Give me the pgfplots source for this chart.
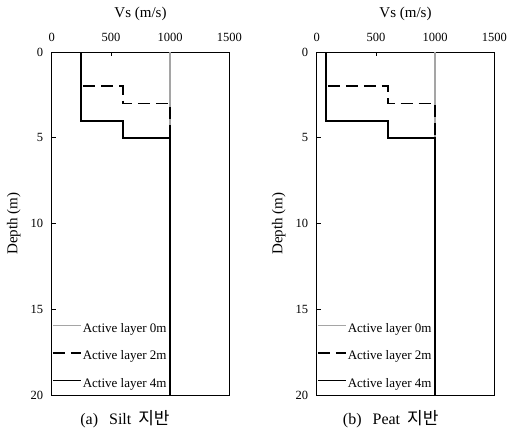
\documentclass[border=0pt]{standalone}
\usepackage{pgfplots}
\pgfplotsset{compat=1.18}
\usepackage{fontspec}
\setmainfont{Liberation Serif}
\newfontfamily\kr{Noto Sans CJK KR}
\definecolor{lgray}{RGB}{165,165,165}
\pgfplotsset{
  vsprof/.style={
    scale only axis, width=177.6bp, height=343bp,
    xmin=0, xmax=1500, ymin=0, ymax=20, y dir=reverse,
    xtick={0,500,1000,1500}, ytick={0,5,10,15,20},
    xtick pos=right, xticklabel pos=right, ytick pos=left,
    tick align=inside, major tick length=4bp,
    axis line style={line width=0.9bp},
    tick style={line width=0.8bp, black},
    ticklabel style={font=\fontsize{12.5bp}{14bp}\selectfont},
    /pgf/number format/assume math mode=true,
    /pgf/number format/1000 sep={},
    xlabel={Vs (m/s)}, ylabel={Depth (m)},
    every axis x label/.style={at={(axis description cs:0.5,1)}, yshift=38bp, anchor=center,
      font=\fontsize{15bp}{17bp}\selectfont},
    every axis y label/.style={at={(axis description cs:0,0.5)}, xshift=-38bp, rotate=90, anchor=center,
      font=\fontsize{15bp}{17bp}\selectfont},
    xticklabel style={yshift=6.5bp},
    yticklabel style={xshift=-5bp},
    legend image code/.code={\draw[##1] (0bp,3.5bp) -- (28bp,3.5bp);},
    legend cell align=left,
    legend style={draw=none, fill=none, at={(axis cs:0,20)}, anchor=south west,
      yshift=4.5bp, inner sep=0pt, row sep=15bp,
      nodes={inner sep=0pt, text height=9.5bp, text depth=3bp,
        font=\fontsize{13bp}{15bp}\selectfont},
      /tikz/every even column/.append style={column sep=0bp},
      /tikz/every odd column/.append style={column sep=1bp}},
  }
}
\begin{document}
\begin{tikzpicture}
\useasboundingbox (0,0) rectangle (508bp,-432bp);
\begin{axis}[vsprof, at={(51.7bp,-52bp)}, anchor=north west]
\addplot[lgray, line width=1.3bp] coordinates {(1000,0) (1000,20)};
\addplot[black, line width=1.9bp, dash pattern=on 12bp off 6bp] coordinates {(250,0) (250,2) (600,2) (600,3) (1000,3) (1000,20)};
\addplot[black, line width=1.8bp] coordinates {(250,0) (250,4) (600,4) (600,5) (1000,5) (1000,20)};
\legend{Active layer 0m, Active layer 2m, Active layer 4m}
\end{axis}
\node[font=\fontsize{16bp}{18bp}\selectfont] at (125bp,-419bp) {(a)\hspace{11bp}Silt\hspace{7bp}{\kr\fontsize{17bp}{18bp}\selectfont 지반}};
\begin{axis}[vsprof, at={(316.7bp,-52bp)}, anchor=north west]
\addplot[lgray, line width=1.3bp] coordinates {(1000,0) (1000,20)};
\addplot[black, line width=1.9bp, dash pattern=on 12bp off 6bp] coordinates {(80,0) (80,2) (600,2) (600,3) (1000,3) (1000,20)};
\addplot[black, line width=1.8bp] coordinates {(80,0) (80,4) (600,4) (600,5) (1000,5) (1000,20)};
\legend{Active layer 0m, Active layer 2m, Active layer 4m}
\end{axis}
\node[font=\fontsize{16bp}{18bp}\selectfont] at (390.7bp,-419bp) {(b)\hspace{11bp}Peat\hspace{7bp}{\kr\fontsize{17bp}{18bp}\selectfont 지반}};
\end{tikzpicture}
\end{document}
